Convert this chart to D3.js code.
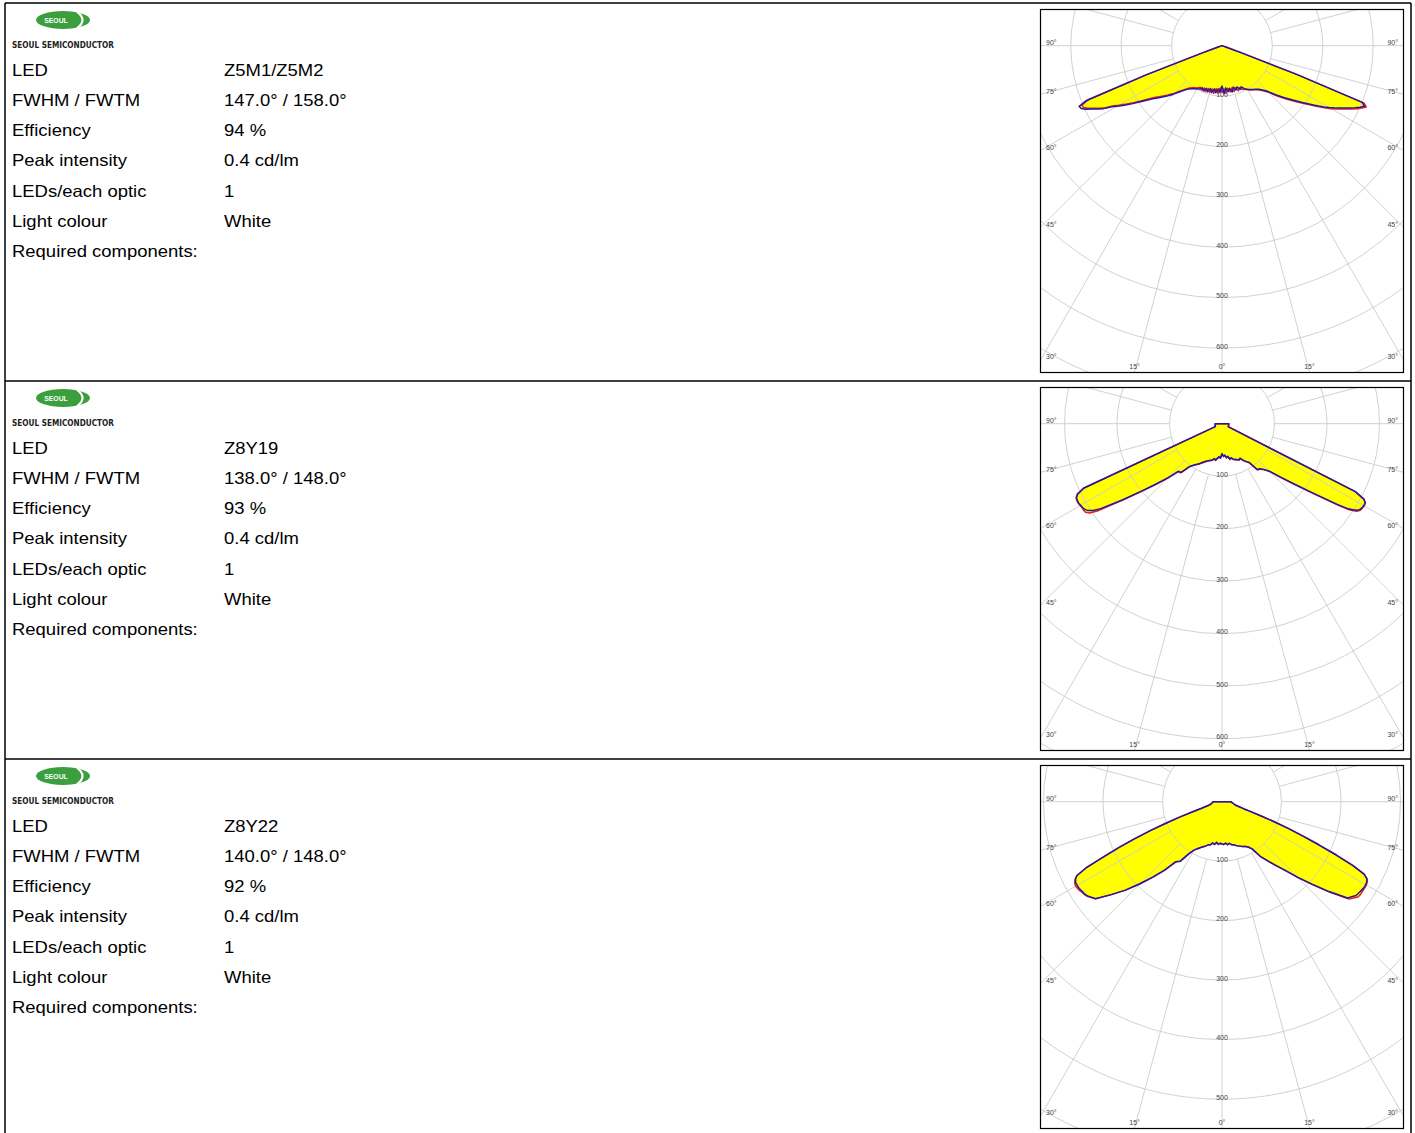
<!DOCTYPE html>
<html>
<head>
<meta charset="utf-8">
<script src="https://cdn.jsdelivr.net/npm/d3@7"></script>
<style>
  body { margin: 0; background: #fff; }
  svg { display: block; font-family: "Liberation Sans", Arial, sans-serif; }
</style>
</head>
<body>
<script>
// ---- data ----
// polar angle (deg), 0 = straight down, negative = left half
const angles = [-90,-85,-80,-75,-72,-71,-70,-69,-68,-67,-66,-65,-64,-63,-62,-61,-60,-59,-58,-57,-56,-55,
  -52.5,-50,-47.5,-45,-42.5,-40,-37.5,-35,-32.5,-30,-27.5,-25,-22.5,-20,-17.5,-15,-12.5,-10,-7.5,-5,-2.5,
  0,
  2.5,5,7.5,10,12.5,15,17.5,20,22.5,25,27.5,30,32.5,35,37.5,40,42.5,45,47.5,50,52.5,
  55,56,57,58,59,60,61,62,63,64,65,66,67,68,69,70,71,72,75,80,85,90];

// intensity in cd/klm, two planes per optic (red, blue)
const z5mRed = [0,0,1,2, 3,8,40,160,285,302,301,294,283,273,262,246,236,226,216,207,197,188,
  169,156,145,133,122,113,106,102,99,97,93,97,91,97,89,96,88,96,86,95,84,
  92,
  86,95,85,93,86,94,87,95,90,96,97,101,104,107,110,115,121,131,147,164,181,
  201,210,220,230,240,250,259,268,277,287,296,304,311,304,160,40,8,3, 2,1,0,0];
const z5mBlue = [0,0,1,2, 3,8,40,160,290,308,306,298,287,277,266,250,240,230,220,211,201,192,
  173,160,148,136,124,115,108,104,101,99,97,92,97,90,96,88,95,87,94,86,93,
  80,
  95,84,92,86,94,85,92,87,94,90,96,100,103,106,109,113,119,128,144,160,177,
  197,206,216,226,236,245,254,263,272,282,291,300,307,300,160,40,8,3, 2,1,0,0];

const z8y19Red = [13,13,13,13, 14,14,14,14,14,14,14,292,307,312,313,313,312,311,311,310,304,290,
  240,201,171,147,124,122,105,97,93,89,85,81,78,75,74,72,69,71,67,64,65,
  58,
  63,61,66,64,70,68,72,73,75,77,75,81,86,91,111,113,119,129,151,180,217,
  272,294,306,311,312,313,312,306,285,14,13,13,13,13,13,13,13,13, 13,13,13,13];
const z8y19Blue = [13,13,13,13, 14,14,14,14,14,14,14,290,306,311,312,312,311,310,308,304,296,282,
  238,200,170,146,123,121,104,97,92,88,84,80,77,75,73,72,68,70,66,63,66,
  57,
  62,60,65,63,69,67,71,72,74,76,74,80,85,90,110,112,118,128,150,178,215,
  268,290,303,309,311,312,312,306,285,14,13,13,13,13,13,13,13,13, 13,13,13,13];

const z8y22Red = [15,16,18,23, 37,52,76,102,130,160,190,222,255,274,280,283,284,283,282,280,279,277,
  268,243,220,195,172,150,127,122,104,94,89,85,82,79,76,75,71,73,69,72,70,
  71,
  72,70,73,71,74,75,77,79,81,83,85,88,94,112,125,139,156,180,206,237,269,
  279,280,280,280,280,280,279,276,268,245,212,178,148,120,93,70,50,38, 25,20,17,15];
const z8y22Blue = [15,16,18,23, 37,52,76,102,130,160,190,222,255,274,279,281,281,281,280,279,278,276,
  268,243,220,195,172,150,127,122,104,94,89,85,82,79,76,75,71,73,69,72,70,
  71,
  72,70,73,71,74,75,77,79,81,83,85,88,94,112,125,139,156,180,205,235,266,
  275,276,277,278,279,279,278,276,268,245,212,178,148,120,93,70,50,38, 25,20,17,15];

// grid
const ringValues = [100,200,300,400,500,600,700,800,900,1000];
const spokeAngles = d3.range(0, 360, 15);
const sideLabels = [90,75,60,45,30];
const bottomLabels = [-15,0,15];

// text table
const rowLabels = ["LED","FWHM / FWTM","Efficiency","Peak intensity","LEDs/each optic","Light colour","Required components:"];
const ledNames = ["Z5M1/Z5M2","Z8Y19","Z8Y22"];
const fwhm = ["147.0° / 158.0°","138.0° / 148.0°","140.0° / 148.0°"];
const efficiency = ["94 %","93 %","92 %"];
const peak = ["0.4 cd/lm","0.4 cd/lm","0.4 cd/lm"];
const ledsPerOptic = ["1","1","1"];
const lightColour = ["White","White","White"];

// pixels per 100 cd/klm on each plot
const pxPer100 = [50.4, 52.5, 59.5];
const seriesRed = [z5mRed, z8y19Red, z8y22Red];
const seriesBlue = [z5mBlue, z8y19Blue, z8y22Blue];

// ---- drawing ----
const width = 1415, height = 1133, panelH = 378;
const svg = d3.select("body").append("svg")
  .attr("width", width).attr("height", height);

const angleScale = d3.scaleLinear().domain([0, 180]).range([Math.PI, 0]);

for (let i = 0; i < 3; i++) drawPanel(i, i * panelH);

// outer frame
const frame = svg.append("g").attr("stroke", "#000").attr("stroke-width", 1.5);
frame.append("line").attr("x1", 5).attr("x2", 5).attr("y1", 3).attr("y2", height);
frame.append("line").attr("x1", 1411).attr("x2", 1411).attr("y1", 3).attr("y2", height);
[3, 381, 759].forEach(y => frame.append("line").attr("x1", 5).attr("x2", 1411).attr("y1", y).attr("y2", y));

function drawPanel(i, oy) {
  const g = svg.append("g");

  // logo
  const logo = g.append("g").attr("transform", `translate(0,${oy})`);
  logo.append("ellipse").attr("cx", 63).attr("cy", 20).attr("rx", 27).attr("ry", 9).attr("fill", "#3a9f3c");
  logo.append("path").attr("d", "M77,11.6 Q88,20 77,28.4")
    .attr("fill", "none").attr("stroke", "#fff").attr("stroke-width", 2.2);
  logo.append("text").attr("x", 56).attr("y", 22.6).attr("text-anchor", "middle")
    .attr("fill", "#fff").attr("font-size", 6.8).attr("font-weight", "bold").text("SEOUL");
  logo.append("text").attr("x", 12).attr("y", 47.6)
    .attr("font-family", "DejaVu Sans").attr("font-weight", "bold").attr("font-size", 9)
    .attr("textLength", 102).attr("lengthAdjust", "spacingAndGlyphs")
    .attr("fill", "#222").text("SEOUL SEMICONDUCTOR");

  // table text
  const values = [ledNames[i], fwhm[i], efficiency[i], peak[i], ledsPerOptic[i], lightColour[i], ""];
  rowLabels.forEach((lab, k) => {
    const y = oy + 76 + k * 30.15;
    g.append("text").attr("transform", `translate(12,${y}) scale(1.12,1)`)
      .attr("font-size", 16.5).attr("fill", "#000").text(lab);
    if (values[k]) g.append("text").attr("transform", `translate(224,${y}) scale(1.12,1)`)
      .attr("font-size", 16.5).attr("fill", "#000").text(values[k]);
  });

  // polar plot
  const bx = 1041, by = oy + 10, bs = 362;
  const cx = 1222, cy = oy + 45.7;
  const r = d3.scaleLinear().domain([0, 100]).range([0, pxPer100[i]]);

  const clipId = "clip" + i;
  g.append("clipPath").attr("id", clipId).append("rect")
    .attr("x", bx).attr("y", by).attr("width", bs).attr("height", bs);

  const plot = g.append("g").attr("clip-path", `url(#${clipId})`);
  const inner = plot.append("g").attr("transform", `translate(${cx},${cy})`);

  const pts = s => angles.map((a, k) => [a, s[k]]);
  const line = d3.lineRadial()
    .angle(d => angleScale(d[0]))
    .radius(d => r(d[1]));

  // yellow fill
  [seriesRed[i], seriesBlue[i]].forEach(s => {
    inner.append("path").attr("d", line(pts(s)) + "Z").attr("fill", "#ffff00");
  });

  // grid
  inner.selectAll(".ring").data(ringValues).join("circle")
    .attr("r", d => r(d)).attr("fill", "none")
    .attr("stroke", "#cccccc").attr("stroke-width", 0.9);
  inner.selectAll(".spoke").data(spokeAngles).join("line")
    .attr("x1", d => r(100) * Math.sin(angleScale(d)))
    .attr("y1", d => -r(100) * Math.cos(angleScale(d)))
    .attr("x2", d => 700 * Math.sin(angleScale(d)))
    .attr("y2", d => -700 * Math.cos(angleScale(d)))
    .attr("stroke", "#cccccc").attr("stroke-width", 0.9);

  // ring labels on the 0° axis
  const boxBottom = by + bs;
  inner.selectAll(".rlab").data(ringValues.filter(v => cy + r(v) < boxBottom - 3)).join("text")
    .attr("x", 0).attr("y", d => r(d) + 0.5)
    .attr("text-anchor", "middle").attr("font-size", 7).attr("fill", "#444").text(d => d);

  // curves
  inner.append("path").attr("d", line(pts(seriesRed[i])) + "Z")
    .attr("fill", "none").attr("stroke", "#ee1c1c").attr("stroke-width", 1.5).attr("stroke-linejoin", "round");
  inner.append("path").attr("d", line(pts(seriesBlue[i])) + "Z")
    .attr("fill", "none").attr("stroke", "#1c1ca8").attr("stroke-width", 1.5).attr("stroke-linejoin", "round");

  // angle labels
  const half = cx - bx;
  sideLabels.forEach(a => {
    const y = a === 90 ? cy - 1 : cy + half / Math.tan(a * Math.PI / 180);
    g.append("text").attr("x", bx + 5).attr("y", y).attr("font-size", 7).attr("fill", "#444").text(a + "°");
    g.append("text").attr("x", bx + bs - 5).attr("y", y).attr("text-anchor", "end")
      .attr("font-size", 7).attr("fill", "#444").text(a + "°");
  });
  bottomLabels.forEach(a => {
    const x = cx + (boxBottom - cy) * Math.tan(a * Math.PI / 180);
    g.append("text").attr("x", x).attr("y", boxBottom - 3.5).attr("text-anchor", "middle")
      .attr("font-size", 7).attr("fill", "#444").text(Math.abs(a) + "°");
  });

  g.append("rect").attr("x", bx - 0.5).attr("y", by - 0.5).attr("width", bs + 1).attr("height", bs + 1)
    .attr("fill", "none").attr("stroke", "#000").attr("stroke-width", 1.2);
}
</script>
</body>
</html>
